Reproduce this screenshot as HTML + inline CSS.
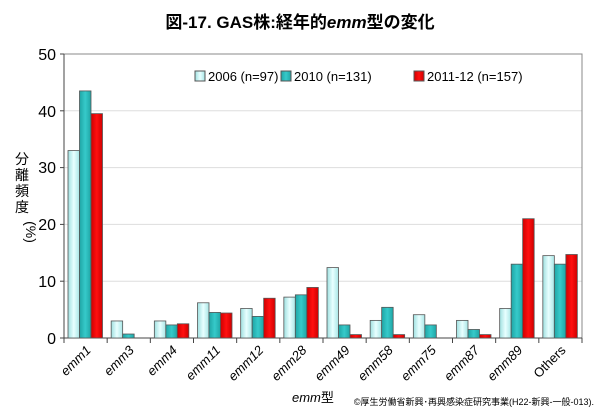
<!DOCTYPE html><html><head><meta charset="utf-8"><style>body{margin:0;background:#fff}svg{display:block}text{font-family:"Liberation Sans","Noto Sans CJK JP",sans-serif}</style></head><body>
<svg width="600" height="415" xmlns="http://www.w3.org/2000/svg">
<defs>
<linearGradient id="g1" x1="0" x2="1"><stop offset="0" stop-color="#9fe0e0"/><stop offset="0.5" stop-color="#e8ffff"/><stop offset="1" stop-color="#a8e6e6"/></linearGradient>
<linearGradient id="g2" x1="0" x2="1"><stop offset="0" stop-color="#1fa5a5"/><stop offset="0.5" stop-color="#36caca"/><stop offset="1" stop-color="#1fa5a5"/></linearGradient>
<linearGradient id="g3" x1="0" x2="1"><stop offset="0" stop-color="#d00000"/><stop offset="0.5" stop-color="#ff1010"/><stop offset="1" stop-color="#d00000"/></linearGradient>
</defs>
<text x="300" y="28" text-anchor="middle" font-size="17" font-weight="bold">図-17. GAS株:経年的<tspan font-style="italic">emm</tspan>型の変化</text>
<g stroke="#ddd" stroke-width="1">
<line x1="64" y1="110.8" x2="582" y2="110.8"/><line x1="64" y1="167.6" x2="582" y2="167.6"/><line x1="64" y1="224.4" x2="582" y2="224.4"/><line x1="64" y1="281.2" x2="582" y2="281.2"/>
</g>
<rect x="64" y="54" width="518" height="284" fill="none" stroke="#888"/>
<line x1="64" y1="54" x2="64" y2="338" stroke="#444"/>
<line x1="64" y1="338" x2="582" y2="338" stroke="#444"/>
<g font-size="16" text-anchor="end">
<text x="56" y="60">50</text><text x="56" y="117">40</text><text x="56" y="173">30</text><text x="56" y="230">20</text><text x="56" y="287">10</text><text x="56" y="344">0</text>
</g>
<g stroke="#444"><line x1="60" y1="54" x2="64" y2="54"/><line x1="60" y1="110.8" x2="64" y2="110.8"/><line x1="60" y1="167.6" x2="64" y2="167.6"/><line x1="60" y1="224.4" x2="64" y2="224.4"/><line x1="60" y1="281.2" x2="64" y2="281.2"/><line x1="60" y1="338" x2="64" y2="338"/></g>
<g font-size="14" text-anchor="middle"><text x="22" y="164">分</text><text x="22" y="180">離</text><text x="22" y="196">頻</text><text x="22" y="212">度</text></g>
<text transform="translate(26,232) rotate(90)" font-size="14" text-anchor="middle">(%)</text>
<g id="bars" stroke="#555" stroke-width="0.8"></g>
<g id="ticks" stroke="#444"></g>
<g id="labels" font-size="13" text-anchor="end"></g>
<text x="292" y="402" font-size="13"><tspan font-style="italic">emm</tspan>型</text>
<text x="594" y="405" font-size="9" text-anchor="end">©厚生労働省新興･再興感染症研究事業(H22-新興-一般-013).</text>
<g font-size="13">
<rect x="195" y="71" width="10" height="10" fill="url(#g1)" stroke="#555"/><text x="208" y="81">2006 (n=97)</text>
<rect x="281" y="71" width="10" height="10" fill="url(#g2)" stroke="#555"/><text x="294" y="81">2010 (n=131)</text>
<rect x="414" y="71" width="10" height="10" fill="url(#g3)" stroke="#555"/><text x="427" y="81">2011-12 (n=157)</text>
</g>
<script>
var d=[["emm1",33,43.5,39.5],["emm3",3,0.7,0],["emm4",3,2.3,2.5],["emm11",6.2,4.5,4.4],["emm12",5.2,3.8,7],["emm28",7.2,7.6,8.9],["emm49",12.4,2.3,0.6],["emm58",3.1,5.4,0.6],["emm75",4.1,2.3,0],["emm87",3.1,1.5,0.6],["emm89",5.2,13,21],["Others",14.5,13,14.7]];
var ns="http://www.w3.org/2000/svg",gw=518/12,b=document.getElementById("bars"),t=document.getElementById("ticks"),l=document.getElementById("labels");
function el(p,n,a,tx){var e=document.createElementNS(ns,n);for(var k in a)e.setAttribute(k,a[k]);if(tx)e.textContent=tx;p.appendChild(e);}
d.forEach(function(r,i){var x0=64+i*gw;
for(var j=0;j<3;j++){var v=r[j+1];if(v<=0)continue;var h=v*5.68;el(b,"rect",{x:x0+4+j*11.5,y:338-h,width:11.5,height:h,fill:"url(#g"+(j+1)+")"});}
el(t,"line",{x1:x0,y1:338,x2:x0,y2:343});
var cx=x0+gw/2+6;el(l,"text",{transform:"translate("+cx+",351) rotate(-45)",fill:"#000","font-style":r[0]=="Others"?"normal":"italic"},r[0]);
});
el(t,"line",{x1:582,y1:338,x2:582,y2:343});
</script>
</svg></body></html>
